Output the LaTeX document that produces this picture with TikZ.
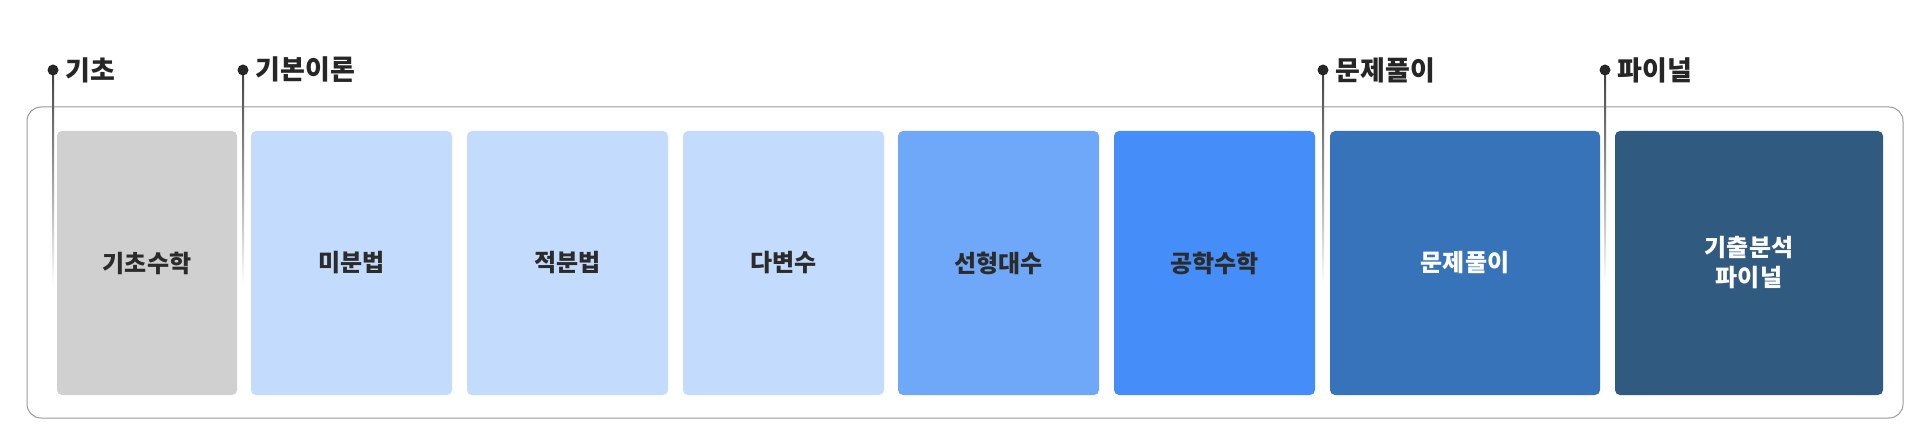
\documentclass[tikz,border=0pt]{standalone}
\usepackage{fontspec}
\setmainfont{Noto Sans CJK KR}
\begin{document}
\begin{tikzpicture}[x=1pt,y=-1pt,
  box/.style={rounded corners=5pt,draw=none},
  btxt/.style={font=\fontsize{24}{30}\selectfont\bfseries,align=center},
  lbl/.style={font=\fontsize{27}{32}\selectfont\bfseries,anchor=west,text=black!85},
  dot/.style={circle,fill=black!85,inner sep=0pt,minimum size=11pt}]
\useasboundingbox (0,0) rectangle (1920,441);
\draw[black!40,rounded corners=14pt,line width=1pt] (27,107) rectangle (1903,418);
\foreach \x/\lx in {53/0,243/0,1323/0,1605/0}{
  \shade[top color=black!75,bottom color=white] (\x-1,70) rectangle (\x+1,285);
}
\node[dot] (d1) at (53,70) {};
\node[dot] (d2) at (243,70) {};
\node[dot] (d3) at (1323,70) {};
\node[dot] (d4) at (1605,70) {};
\node[lbl] (l1) at (62,70) {기초};
\node[lbl] (l2) at (252,70) {기본이론};
\node[lbl] (l3) at (1332,70) {문제풀이};
\node[lbl] (l4) at (1614,70) {파이널};
\foreach \a/\b/\c/\t/\tc/\n in {57/237/D0D0D0/기초수학/2B2B2B/b1,251/452/C3DCFD/미분법/2B2B2B/b2,467/668/C3DCFD/적분법/2B2B2B/b3,683/884/C3DCFD/다변수/2B2B2B/b4,898/1099/6FA8F9/선형대수/2B2B2B/b5,1114/1315/458DF8/공학수학/2B2B2B/b6,1330/1600/3673B9/문제풀이/FFFFFF/b7,1615/1883/315A80/{기출분석\\파이널}/FFFFFF/b8}{
  \definecolor{bc}{HTML}{\c}\definecolor{tc}{HTML}{\tc}
  \fill[box,bc] (\a,131) rectangle (\b,395);
  \node[btxt,text=tc] (\n) at ({(\a+\b)/2},263) {\t};
}
\end{tikzpicture}
\end{document}
